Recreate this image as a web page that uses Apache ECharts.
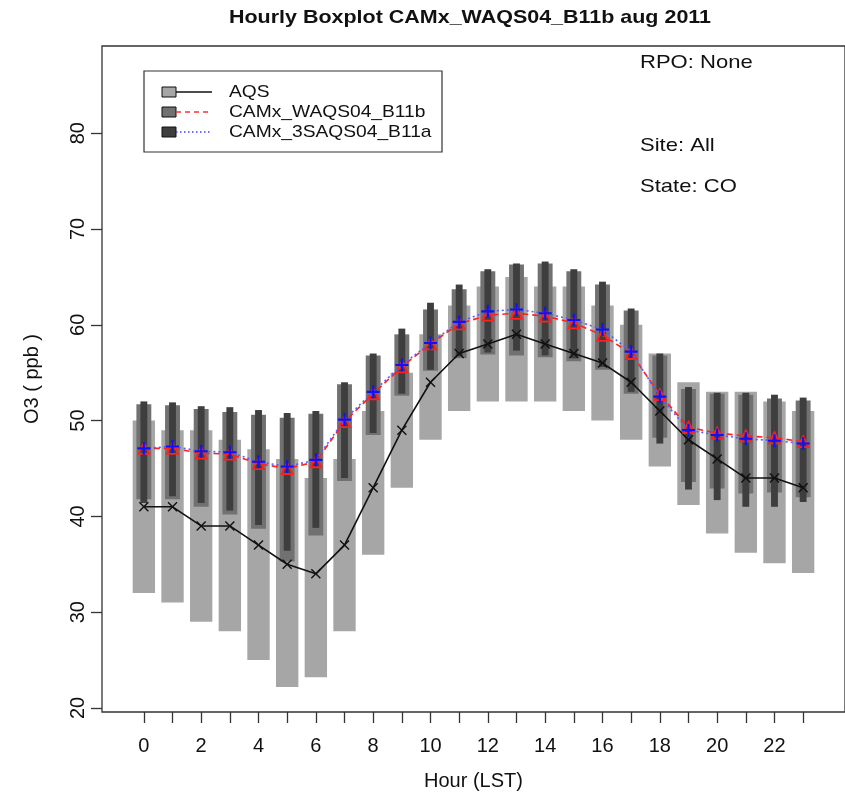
<!DOCTYPE html>
<html>
<head>
<meta charset="utf-8">
<script src="https://cdn.jsdelivr.net/npm/echarts@6/dist/echarts.min.js"></script>
<style>
  html, body { margin: 0; padding: 0; background: #fff; }
  #chart { width: 845px; height: 796px; }
</style>
</head>
<body>
<div id="chart"></div>
<script>
var hours = [0, 1, 2, 3, 4, 5, 6, 7, 8, 9, 10, 11, 12, 13, 14, 15, 16, 17, 18, 19, 20, 21, 22, 23]
var hourLabels = [0, 2, 4, 6, 8, 10, 12, 14, 16, 18, 20, 22]
var o3Ticks = [20, 30, 40, 50, 60, 70, 80]

// AQS observations: 25th / 75th percentile and median
var aqsQ1 = [32, 31, 29, 28, 25, 22.2, 23.2, 28, 36, 43, 48, 51, 52, 52, 52, 51, 50, 48, 45.2, 41.2, 38.2, 36.2, 35.1, 34.1]
var aqsQ3 = [50, 49, 49, 48, 47, 46, 44, 46, 51, 55, 59, 62, 64, 65, 64, 64, 62, 60, 57, 54, 53, 53, 52, 51]
var aqsMedian = [41, 41, 39, 39, 37, 35, 34, 37, 43, 49, 54, 57, 58, 59, 58, 57, 56, 54, 51, 48, 46, 44, 44, 43]

// CAMx_WAQS04_B11b
var b11bQ1 = [41.8, 41.8, 41.0, 40.2, 38.7, 35.3, 38.0, 43.7, 48.5, 52.6, 55.2, 56.5, 56.9, 56.8, 56.6, 56.2, 55.3, 52.8, 48.2, 43.6, 42.9, 42.4, 42.5, 42.0]
var b11bQ3 = [51.7, 51.6, 51.2, 50.9, 50.6, 50.3, 50.7, 53.8, 56.8, 59.0, 61.6, 63.7, 65.6, 66.3, 66.4, 65.6, 64.2, 61.5, 56.8, 53.3, 52.8, 52.7, 52.3, 52.1]
var b11bMedian = [47.1, 47.1, 46.6, 46.5, 45.5, 45.0, 45.7, 49.9, 52.8, 55.6, 58.0, 60.1, 61.0, 61.2, 60.9, 60.2, 58.9, 57.0, 52.7, 49.3, 48.7, 48.4, 48.2, 47.8]

// CAMx_3SAQS04_B11a
var b11aQ1 = [41.4, 42.1, 41.4, 40.6, 39.1, 36.4, 38.8, 44.0, 48.7, 52.8, 55.3, 56.7, 57.1, 57.3, 56.8, 56.5, 55.6, 53.0, 47.6, 42.8, 41.7, 41.0, 41.0, 41.5]
var b11aQ3 = [52.0, 51.9, 51.5, 51.4, 51.1, 50.8, 51.0, 54.0, 57.0, 59.6, 62.3, 64.2, 65.8, 66.4, 66.6, 65.8, 64.5, 61.7, 57.0, 53.5, 52.9, 52.9, 52.7, 52.4]
var b11aMedian = [47.1, 47.3, 46.8, 46.7, 45.7, 45.2, 45.9, 50.1, 53.0, 55.8, 58.1, 60.3, 61.4, 61.6, 61.2, 60.5, 59.5, 57.2, 52.5, 49.0, 48.5, 48.1, 47.9, 47.6]

var font = '"Liberation Sans", Arial, sans-serif'
var crossPath = 'path://M0,1L1,0L5,4L9,0L10,1L6,5L10,9L9,10L5,6L1,10L0,9L4,5Z'
var plusPath = 'path://M4.2,0H5.8V4.2H10V5.8H5.8V10H4.2V5.8H0V4.2H4.2Z'

function boxSeries(name, q1, q3, width, color) {
  return {
    name: name,
    type: 'custom',
    data: hours.map(function (h, i) { return [h, q1[i], q3[i]] }),
    encode: { x: 0, y: [1, 2] },
    renderItem: function (params, api) {
      var lo = api.coord([api.value(0), api.value(1)])
      var hi = api.coord([api.value(0), api.value(2)])
      var w = api.size([width, 0])[0]
      return {
        type: 'rect',
        shape: { x: lo[0] - w / 2, y: hi[1], width: w, height: lo[1] - hi[1] },
        style: { fill: color }
      }
    },
    silent: true
  }
}

function pairs(values) {
  return hours.map(function (h, i) { return [h, values[i]] })
}

// one legend line: grey swatch, line sample, label
function legendRow(y, fill, line, label) {
  return [
    { type: 'rect', z: 11, shape: { x: 162, y: y - 5, width: 14, height: 10 }, style: { fill: fill, stroke: '#111', lineWidth: 1 } },
    { type: 'line', z: 11, shape: { x1: 176, y1: y, x2: 212, y2: y }, style: line },
    { type: 'text', z: 11, x: 229, y: y, scaleX: 1.13, style: { text: label, font: '17px ' + font, fill: '#111', textVerticalAlign: 'middle' } }
  ]
}

var chart = echarts.init(document.getElementById('chart'))

var option = {
  animation: false,
  grid: {
    left: 102,
    top: 46,
    bottom: 84,
    right: -11,
    show: true,
    borderColor: '#333',
    borderWidth: 1.3
  },
  xAxis: {
    type: 'value',
    min: -1.46,
    max: 24.46,
    name: 'Hour (LST)',
    nameLocation: 'middle',
    nameGap: 59,
    nameTextStyle: { fontSize: 20, fontFamily: font, color: '#111' },
    axisLine: { show: false, onZero: false },
    splitLine: { show: false },
    axisTick: { show: true, length: 11, customValues: hours, lineStyle: { color: '#333', width: 1.3 } },
    axisLabel: { customValues: hourLabels, fontSize: 20, fontFamily: font, color: '#111', margin: 24 }
  },
  yAxis: {
    type: 'value',
    min: 19.58,
    max: 89.1,
    name: 'O3 ( ppb )',
    nameLocation: 'middle',
    nameGap: 60,
    nameTextStyle: { fontSize: 20, fontFamily: font, color: '#111' },
    axisLine: { show: false, onZero: false },
    splitLine: { show: false },
    axisTick: { show: true, length: 11, customValues: o3Ticks, lineStyle: { color: '#333', width: 1.3 } },
    axisLabel: { customValues: o3Ticks, rotate: 90, fontSize: 20, fontFamily: font, color: '#111', margin: 14 }
  },
  series: [
    boxSeries('AQS box', aqsQ1, aqsQ3, 0.78, '#a6a6a6'),
    boxSeries('B11b box', b11bQ1, b11bQ3, 0.52, '#717171'),
    boxSeries('B11a box', b11aQ1, b11aQ3, 0.24, '#3e3e3e'),
    {
      name: 'AQS',
      type: 'line',
      data: pairs(aqsMedian),
      symbol: crossPath,
      symbolSize: 10,
      itemStyle: { color: '#111' },
      lineStyle: { color: '#111', width: 1.6 },
      z: 5
    },
    {
      name: 'CAMx_WAQS04_B11b',
      type: 'line',
      data: pairs(b11bMedian),
      symbol: 'triangle',
      symbolSize: 11,
      itemStyle: { color: 'rgba(0,0,0,0)', borderColor: '#ff2020', borderWidth: 1.8 },
      lineStyle: { color: '#ff2020', width: 1.6, type: [6, 4] },
      z: 6
    },
    {
      name: 'CAMx_3SAQS04_B11a',
      type: 'line',
      data: pairs(b11aMedian),
      symbol: plusPath,
      symbolSize: 13,
      itemStyle: { color: '#1010ff' },
      lineStyle: { color: '#5a5aff', width: 1.6, type: [2, 3] },
      z: 7
    }
  ],
  graphic: [
    { type: 'text', x: 470, y: 18, scaleX: 1.13, style: { text: 'Hourly Boxplot CAMx_WAQS04_B11b aug 2011', font: 'bold 19px ' + font, fill: '#111', textAlign: 'center', textVerticalAlign: 'middle' } },
    { type: 'text', x: 640, y: 63, scaleX: 1.16, style: { text: 'RPO: None', font: '19px ' + font, fill: '#111', textVerticalAlign: 'middle' } },
    { type: 'text', x: 640, y: 146, scaleX: 1.16, style: { text: 'Site: All', font: '19px ' + font, fill: '#111', textVerticalAlign: 'middle' } },
    { type: 'text', x: 640, y: 187, scaleX: 1.16, style: { text: 'State: CO', font: '19px ' + font, fill: '#111', textVerticalAlign: 'middle' } },
    { type: 'rect', z: 10, shape: { x: 144, y: 71, width: 298, height: 81 }, style: { fill: '#fff', stroke: '#333', lineWidth: 1.2 } }
  ]
    .concat(legendRow(92, '#a6a6a6', { stroke: '#111', lineWidth: 1.3 }, 'AQS'))
    .concat(legendRow(112, '#717171', { stroke: '#ff3030', lineWidth: 1.3, lineDash: [5, 4] }, 'CAMx_WAQS04_B11b'))
    .concat(legendRow(132, '#3e3e3e', { stroke: '#4040ff', lineWidth: 1.3, lineDash: [1.5, 2.5] }, 'CAMx_3SAQS04_B11a'))
}

chart.setOption(option)
</script>
</body>
</html>
